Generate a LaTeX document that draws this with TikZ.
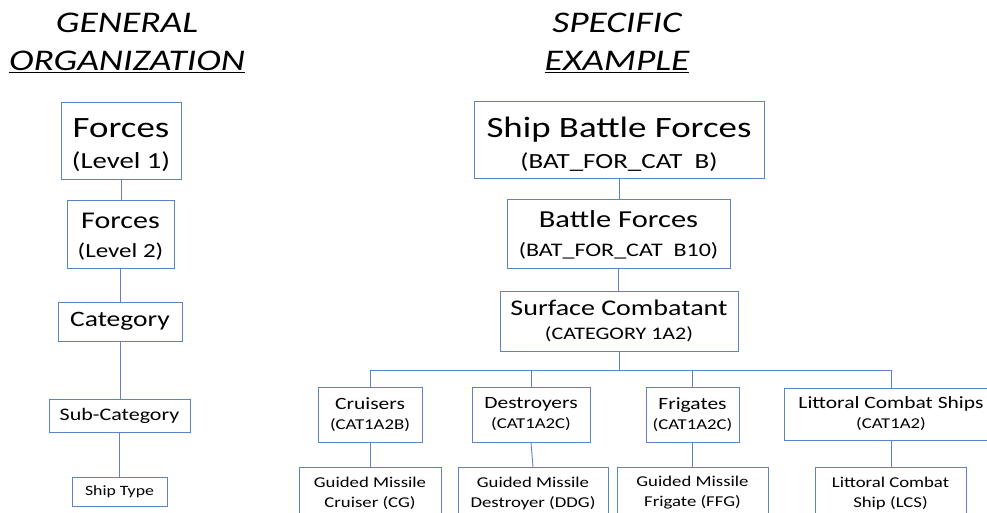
\documentclass[tikz,border=0pt]{standalone}
\usepackage{fontspec}
\setmainfont{Carlito}[FakeStretch=1.25]
\usepackage{tikz}
\usetikzlibrary{positioning,calc}
\definecolor{boxblue}{RGB}{91,132,196}
\newcommand{\fsz}[2]{\fontsize{#1}{#2}\selectfont}

\begin{document}
\begin{tikzpicture}[x=1pt,y=-1pt,
    box/.style={draw=boxblue, line width=1pt, align=center, inner sep=0pt, text=black},
    link/.style={draw=boxblue, line width=0.9pt},
    title/.style={anchor=base, font=\fsz{30}{36}\itshape}]
    \useasboundingbox (0,0) rectangle (987,513);
    \clip (0,0) rectangle (987,513);

    \node[title] (gen) at (127,33) {GENERAL};
    \node[title] (org) at (127,71) {\underline{ORGANIZATION}};
    \node[title] (spec) at (617,33) {SPECIFIC};
    \node[title] (exa) at (617,71) {\underline{EXAMPLE}};

    \node[box, minimum width=120, minimum height=77, font=\fsz{23}{31}] (f1) at (121,141.5) {\fsz{29.5}{31}\rule{0pt}{26pt}Forces\\(Level 1)};
    \node[box, minimum width=107, minimum height=68, font=\fsz{20}{29}] (f2) at (120.5,234) {\fsz{24}{29}\rule{0pt}{20pt}Forces\\(Level 2)};
    \node[box, minimum width=124, minimum height=39, font=\fsz{22}{26}] (cat) at (120,321.5) {Category};
    \node[box, minimum width=141, minimum height=33, font=\fsz{17.6}{21}] (sub) at (119.5,415.5) {Sub-Category};
    \node[box, minimum width=95, minimum height=29, font=\fsz{14.2}{17}] (st) at (119.5,491.5) {Ship Type};

    \draw[link] (f1.south) -- (f1.south |- f2.north);
    \draw[link] (f2.south) -- (f2.south |- cat.north);
    \draw[link] (cat.south) -- (cat.south |- sub.north);
    \draw[link] (sub.south) -- (sub.south |- st.north);

    \node[box, minimum width=290, minimum height=77, font=\fsz{21.6}{31}] (sbf) at (619,140.5) {\fsz{29.5}{31}\rule{0pt}{27pt}Ship Battle Forces\\(BAT\_FOR\_CAT~~B)};
    \node[box, minimum width=223, minimum height=69, font=\fsz{19.2}{29}] (bf) at (618.5,233.5) {\fsz{24.4}{29}\rule{0pt}{20pt}Battle Forces\\(BAT\_FOR\_CAT~~B10)};
    \node[box, minimum width=238, minimum height=60, font=\fsz{17.6}{24}] (sc) at (619,321) {\fsz{22.4}{24}Surface Combatant\\(CATEGORY 1A2)};

    \node[box, minimum width=104, minimum height=55, font=\fsz{15}{20}] (cru) at (370,414.5) {\fsz{17.2}{20}Cruisers\\(CAT1A2B)};
    \node[box, minimum width=118, minimum height=55, font=\fsz{15}{20}] (des) at (531,414.5) {\fsz{17.2}{20}Destroyers\\(CAT1A2C)};
    \node[box, minimum width=93, minimum height=55, font=\fsz{15}{20}] (fri) at (692.5,414.5) {\fsz{17.2}{20}Frigates\\(CAT1A2C)};
    \node[box, minimum width=214, minimum height=52, font=\fsz{15}{20}] (lcs) at (891,414) {\fsz{17.2}{20}Littoral Combat Ships\\(CAT1A2)};

    \node[box, anchor=north, minimum width=142, minimum height=51, font=\fsz{15}{20}] (gmc) at (370,467) {Guided Missile\\Cruiser (CG)};
    \node[box, anchor=north, minimum width=150, minimum height=51, font=\fsz{15}{20}] (gmd) at (533,467) {Guided Missile\\Destroyer (DDG)};
    \node[box, anchor=north, minimum width=151, minimum height=51, font=\fsz{15}{20}] (gmf) at (692.5,467) {Guided Missile\\Frigate (FFG)};
    \node[box, anchor=north, minimum width=151, minimum height=51, font=\fsz{15}{20}] (lcss) at (890.5,467) {Littoral Combat\\Ship (LCS)};

    \draw[link] (sbf.south) -- (sbf.south |- bf.north);
    \draw[link] (bf.south) -- (bf.south |- sc.north);
    \coordinate (bus) at ($(sc.south)+(0,19)$);
    \draw[link] (sc.south) -- (bus);
    \foreach \n in {cru,des,fri,lcs}
        \draw[link] (\n.north) |- (bus);
    \draw[link] (cru.south) -- (cru.south |- gmc.north);
    \draw[link] (des.south) -- (gmd.north);
    \draw[link] (fri.south) -- (fri.south |- gmf.north);
    \draw[link] (lcs.south) -- (lcs.south |- lcss.north);
\end{tikzpicture}
\end{document}
